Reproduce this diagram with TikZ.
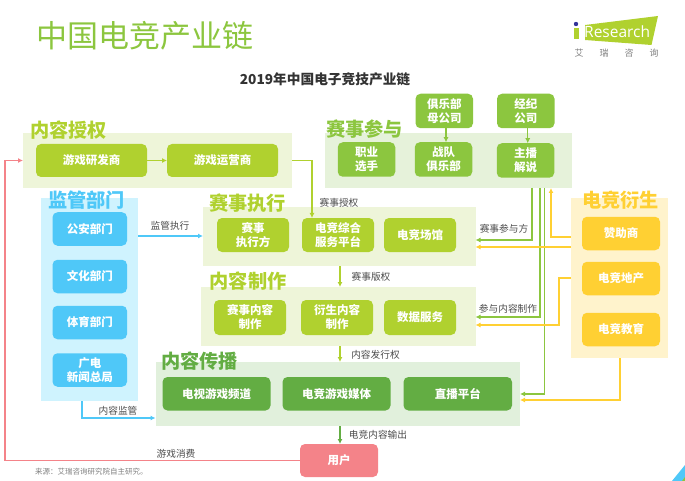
\documentclass[tikz,border=0pt]{standalone}
\usepackage{fontspec}
\setmainfont{Noto Sans CJK SC}
\setsansfont{Open Sans}
\usetikzlibrary{arrows.meta}
\definecolor{limeb}{HTML}{B0D12F}
\definecolor{limep}{HTML}{EEF5D9}
\definecolor{leafb}{HTML}{8CC63F}
\definecolor{leafp}{HTML}{E6F2DA}
\definecolor{darkb}{HTML}{63AD43}
\definecolor{darkp}{HTML}{E1F0DC}
\definecolor{skyb}{HTML}{4FC8F8}
\definecolor{skyp}{HTML}{CFF3FE}
\definecolor{sunb}{HTML}{FFD033}
\definecolor{sunp}{HTML}{FFF3CC}
\definecolor{pinkb}{HTML}{F48389}
\tikzset{
  panel/.style={inner sep=0pt,outer sep=0pt},
  box/.style={rounded corners=5pt,inner sep=0pt,outer sep=0pt,text=white,align=center,
    font=\fontsize{11.5}{14}\selectfont\bfseries},
  head/.style={inner sep=0pt,font=\fontsize{19.2}{20}\selectfont\bfseries},
  tag/.style={inner sep=0pt,text=black!70,font=\fontsize{9.7}{11}\selectfont},
  arr/.style={line width=1.3pt,-{Latex[length=5pt,width=5pt]}}
}
\begin{document}
\begin{tikzpicture}[x=1pt,y=-1pt]
\useasboundingbox (0,0) rectangle (685,481);

\node[inner sep=0pt,anchor=west,text=leafb,font=\fontsize{31}{33}\selectfont] (title) at (36,36) {中国电竞产业链};
\node[inner sep=0pt,text=black!80,font=\fontsize{13.7}{15}\selectfont\bfseries] (subtitle) at (325,79) {2019年中国电子竞技产业链};

\fill[limeb] (585,25) -- (658,16) -- (651.5,45) -- (585,40) -- cycle;
\fill[limeb] (574,28) rectangle (578.5,39);
\fill[blue!50!black!80] (576,24) circle (2.2);
\node[inner sep=0pt,anchor=west,text=white,font=\sffamily\fontsize{15.5}{18}\selectfont] (brand) at (584,32) {Research};
\node[inner sep=0pt,text=black!50,font=\fontsize{9}{10}\selectfont] (brandcn) at (616.5,53) {艾\hspace{16pt}瑞\hspace{16pt}咨\hspace{16pt}询};

\fill[skyb] (672,481) -- (685,465) -- (685,481) -- cycle;
\fill[leafb] (682,481) -- (685,477) -- (685,481) -- cycle;

\node[panel,fill=limep,minimum width=269,minimum height=55] (plicense) at (157.5,160.5) {};
\node[panel,fill=leafp,minimum width=246.5,minimum height=55] (pjoin) at (448.5,160.5) {};
\node[panel,fill=skyp,minimum width=97,minimum height=203] (pwatch) at (89.5,299.5) {};
\node[panel,fill=limep,minimum width=272.5,minimum height=59] (pexec) at (339.25,236.5) {};
\node[panel,fill=limep,minimum width=274.5,minimum height=59] (pmake) at (338.25,316.5) {};
\node[panel,fill=darkp,minimum width=364.5,minimum height=64] (pspread) at (337.75,394) {};
\node[panel,fill=sunp,minimum width=97,minimum height=160] (pderive) at (619.5,278) {};

\node[head,text=limeb] (hlicense) at (68.5,130) {内容授权};
\node[head,text=leafb] (hjoin) at (364.5,129) {赛事参与};
\node[head,text=skyb] (hwatch) at (86.5,200) {监管部门};
\node[head,text=limeb] (hexec) at (247.5,203) {赛事执行};
\node[head,text=limeb] (hmake) at (248,281) {内容制作};
\node[head,text=darkb] (hspread) at (199.5,361) {内容传播};
\node[head,text=sunb] (hderive) at (620.5,200) {电竞衍生};

\tikzset{lb/.style={box,fill=limeb,minimum width=72,minimum height=34},
  gb/.style={box,fill=leafb,minimum width=57.5,minimum height=34.5},
  db/.style={box,fill=darkb,minimum width=108,minimum height=33.5},
  sb/.style={box,fill=skyb,minimum width=74.5,minimum height=33.5},
  yb/.style={box,fill=sunb,minimum width=78,minimum height=33.5}}

\node[lb,minimum width=111,minimum height=33] (dev) at (91.5,160.5) {游戏研发商};
\node[lb,minimum width=111,minimum height=33] (oper) at (222.5,160.5) {游戏运营商};

\node[gb] (pro) at (366.5,159.5) {职业\\选手};
\node[gb] (team) at (443.5,159.5) {战队\\俱乐部};
\node[gb] (host) at (525.5,160.5) {主播\\解说};
\node[gb] (parent) at (444.25,111) {俱乐部\\母公司};
\node[gb] (agent) at (525.75,111) {经纪\\公司};

\node[sb] (police) at (89.75,229) {公安部门};
\node[sb] (culture) at (89.75,276.5) {文化部门};
\node[sb] (sport) at (89.75,322.5) {体育部门};
\node[sb] (radio) at (89.75,370) {广电\\新闻总局};

\node[lb] (runner) at (253,235) {赛事\\执行方};
\node[lb] (hub) at (338,235) {电竞综合\\服务平台};
\node[lb] (venue) at (420,235) {电竞场馆};

\node[lb,minimum height=35] (evcontent) at (250,317.5) {赛事内容\\制作};
\node[lb,minimum height=35] (dercontent) at (337,317.5) {衍生内容\\制作};
\node[lb,minimum height=35] (data) at (420,317.5) {数据服务};

\node[db] (tv) at (216.5,393.75) {电视游戏频道};
\node[db] (media) at (336.5,393.75) {电竞游戏媒体};
\node[db,minimum width=108.5] (live) at (457.75,393.75) {直播平台};

\node[yb] (sponsor) at (621,233.5) {赞助商};
\node[yb] (estate) at (621,278.5) {电竞地产};
\node[yb] (school) at (621,329.5) {电竞教育};

\node[box,fill=pinkb,minimum width=78,minimum height=33] (user) at (339,460.5) {用户};

\coordinate (axis) at (340,0);
\coordinate (grantx) at (312,0);
\coordinate (pinkx) at (5,0);
\coordinate (skyx) at (82,0);
\coordinate (g1x) at (532,0);
\coordinate (g2x) at (540,0);
\coordinate (g3x) at (544.5,0);
\coordinate (y1x) at (551,0);
\coordinate (y2x) at (559,0);
\coordinate (y3x) at (620,0);
\coordinate (g1y) at (0,240);
\coordinate (g2y) at (0,317);
\coordinate (g3y) at (0,394);
\coordinate (y1y) at (0,237);
\coordinate (y1by) at (0,247);
\coordinate (y2y) at (0,278);
\coordinate (y2by) at (0,325);
\coordinate (y3y) at (0,400);
\coordinate (skyy) at (0,236);
\coordinate (skyby) at (0,418);

\draw[arr,limeb] (dev) -- (oper);
\draw[arr,limeb] (plicense.east) -| (hub.north -| grantx);
\draw[arr,limeb] (pexec.south -| axis) -- (pmake.north -| axis);
\draw[arr,limeb] (pmake.south -| axis) -- (pspread.north -| axis);
\draw[arr,darkb] (pspread.south -| axis) -- (user.north -| axis);

\draw[arr,leafb] (parent.south -| team) ++(2.5,0) -- ++(0,14);
\draw[arr,leafb] (agent.south) ++(2,0) -- ++(0,15);

\draw[arr,skyb] (pwatch.east |- skyy) -- (pexec.west |- skyy);
\draw[arr,skyb] (pwatch.south -| skyx) |- (pspread.west |- skyby);
\draw[arr,pinkb,line width=1.5pt] (user.west) -| (pinkx |- plicense) -- (plicense.west);

\draw[arr,leafb] (pjoin.south -| g1x) |- (pexec.east |- g1y);
\draw[arr,leafb] (pjoin.south -| g2x) |- (pmake.east |- g2y);
\draw[arr,leafb] (pjoin.south -| g3x) |- (pspread.east |- g3y);
\draw[arr,sunb] (pderive.west |- y1y) -| (pjoin.south -| y1x);
\draw[arr,sunb] (pderive.west |- y1by) -- (pexec.east |- y1by);
\draw[arr,sunb] (pderive.west |- y2y) -- (y2x |- y2y) |- (pmake.east |- y2by);
\draw[arr,sunb] (pderive.south -| y3x) |- (pspread.east |- y3y);

\node[tag] (tgrant) at (339,203) {赛事授权};
\node[tag] (twatch) at (170,226) {监管执行};
\node[tag] (tcheck) at (118,411) {内容监管};
\node[tag] (tplay) at (176,453.5) {游戏消费};
\node[tag] (tright) at (371,277) {赛事版权};
\node[tag] (tissue) at (375.5,355) {内容发行权};
\node[tag] (toutput) at (378,435) {电竞内容输出};
\node[tag] (tjoin) at (504,229) {赛事参与方};
\node[tag] (tpart) at (508,309) {参与内容制作};
\node[inner sep=0pt,anchor=west,text=black!50,font=\fontsize{7.5}{9}\selectfont] (source) at (35,472) {来源：艾瑞咨询研究院自主研究。};
\end{tikzpicture}
\end{document}
